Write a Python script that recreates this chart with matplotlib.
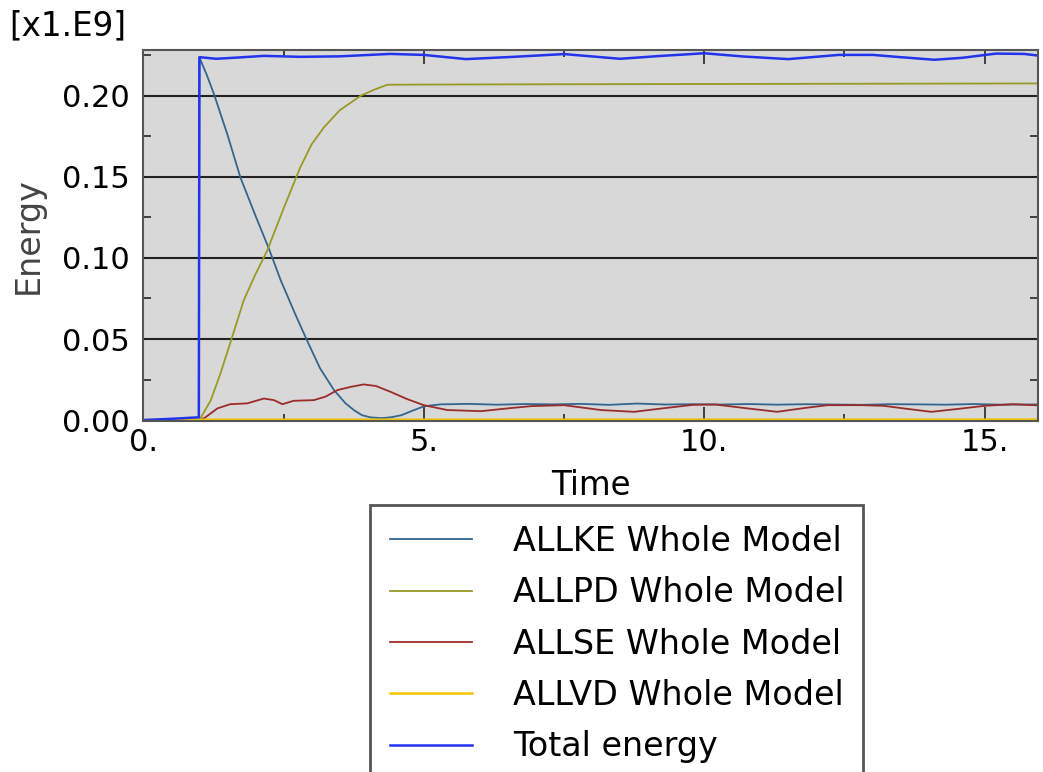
import matplotlib.pyplot as plt
from matplotlib.ticker import MultipleLocator, FuncFormatter

# energy histories, values in units of 1e9
t_ke = [0, 0.99, 1.0, 1.13, 1.26, 1.5, 1.73, 2.0, 2.24, 2.45, 2.7, 2.92, 3.15, 3.4, 3.6, 3.76,
        3.9, 4.05, 4.25, 4.41, 4.6, 4.8, 5.0, 5.3, 5.8, 6.3, 6.8, 7.3, 7.8, 8.3, 8.8, 9.3,
        9.8, 10.3, 10.8, 11.3, 11.8, 12.3, 12.8, 13.3, 13.8, 14.3, 14.8, 15.3, 16.0]
allke = [0, 0, 0.2236, 0.213, 0.201, 0.176, 0.1497, 0.126, 0.1056, 0.0862, 0.066, 0.049, 0.032,
         0.0185, 0.0105, 0.006, 0.003, 0.0017, 0.0012, 0.0017, 0.003, 0.0058, 0.0085, 0.0097,
         0.0100, 0.0095, 0.0099, 0.0097, 0.0100, 0.0094, 0.0102, 0.0096, 0.0098, 0.0096, 0.0099,
         0.0095, 0.0098, 0.0096, 0.0094, 0.0098, 0.0097, 0.0095, 0.0099, 0.0095, 0.0097]

t_pd = [0, 1.0, 1.2, 1.375, 1.6, 1.79, 2.0, 2.21, 2.51, 2.8, 3.0, 3.22, 3.5, 3.875, 4.1, 4.35,
        5.0, 7.5, 16.0]
allpd = [0, 0, 0.012, 0.0287, 0.053, 0.0738, 0.090, 0.1046, 0.1313, 0.156, 0.170, 0.1805,
         0.191, 0.200, 0.2035, 0.2068, 0.2069, 0.2071, 0.2076]

t_se = [0, 1.0, 1.1, 1.32, 1.55, 1.85, 2.0, 2.15, 2.33, 2.48, 2.68, 3.04, 3.25, 3.46, 3.7, 3.93,
        4.15, 4.41, 4.7, 5.0, 5.42, 6.02, 6.49, 6.91, 7.5, 8.16, 8.75, 9.2, 9.8, 10.2, 10.7,
        11.3, 11.8, 12.2, 12.8, 13.2, 13.6, 14.05, 14.5, 15.0, 15.5, 16.0]
allse = [0, 0, 0.0015, 0.0072, 0.0098, 0.0103, 0.0118, 0.0133, 0.0123, 0.0098, 0.0119, 0.0123,
         0.0145, 0.0185, 0.0205, 0.0220, 0.0210, 0.0174, 0.0130, 0.0092, 0.0062, 0.0055, 0.0072,
         0.0086, 0.0092, 0.0062, 0.0051, 0.0070, 0.0094, 0.0096, 0.0075, 0.0051, 0.0075, 0.0092,
         0.0092, 0.0088, 0.0070, 0.0051, 0.0068, 0.0088, 0.0098, 0.0090]

t_vd = [0, 1.0, 16.0]
allvd = [0, 0.0002, 0.0003]

t_tot = [0, 0.5, 0.99, 1.0, 1.3, 1.7, 2.15, 2.8, 3.5, 4.4, 5.0, 5.75, 6.6, 7.5, 8.5, 9.2, 10.0,
         10.7, 11.5, 12.4, 13.0, 13.5, 14.1, 14.6, 15.2, 15.7, 16.0]
total = [0, 0.0008, 0.0017, 0.2238, 0.2228, 0.2236, 0.2246, 0.2240, 0.2243, 0.2258, 0.2252,
         0.2226, 0.2240, 0.2257, 0.2228, 0.2245, 0.2262, 0.2242, 0.2226, 0.2252, 0.2252, 0.2238,
         0.2222, 0.2234, 0.2260, 0.2258, 0.2246]

labels = ['ALLKE Whole Model', 'ALLPD Whole Model', 'ALLSE Whole Model',
          'ALLVD Whole Model', 'Total energy']

plt.rcParams['font.family'] = 'DejaVu Sans'

fig = plt.figure(figsize=(10.43, 7.72), dpi=100)
ax = fig.add_axes([0.1374, 0.455, 0.8578, 0.4802])
ax.set_facecolor('#d8d8d8')

ax.plot(t_ke, allke, color='#33668f', lw=1.3, label=labels[0])
ax.plot(t_pd, allpd, color='#999926', lw=1.3, label=labels[1])
ax.plot(t_se, allse, color='#9b2b2b', lw=1.3, label=labels[2])
ax.plot(t_vd, allvd, color='#f2c500', lw=1.8, label=labels[3])
ax.plot(t_tot, total, color='#2233ee', lw=1.8, label=labels[4])

ax.set_xlim(0, 15.95)
ax.set_ylim(-0.0004, 0.2282)

ax.xaxis.set_major_locator(MultipleLocator(5))
ax.xaxis.set_minor_locator(MultipleLocator(2.5))
ax.yaxis.set_major_locator(MultipleLocator(0.05))
ax.yaxis.set_minor_locator(MultipleLocator(0.025))
ax.xaxis.set_major_formatter(FuncFormatter(lambda v, p: '%d.' % round(v)))
ax.yaxis.set_major_formatter(FuncFormatter(lambda v, p: '%.2f' % v))

ax.tick_params(which='both', direction='in', top=True, right=True, labelsize=22,
               color='#333333', labelcolor='black')
ax.tick_params(axis='x', which='major', length=10, width=1.3, pad=5)
ax.tick_params(axis='x', which='minor', length=5, width=1.3)
ax.tick_params(axis='y', which='major', length=0, pad=10)
ax.tick_params(axis='y', which='minor', length=6, width=1.3)
ax.grid(axis='y', which='major', color='#222222', lw=1.5)
ax.set_axisbelow(True)
for s in ax.spines.values():
    s.set_color('#555555')
    s.set_linewidth(1.5)

ax.set_xlabel('Time', fontsize=23.5, labelpad=9)
ax.set_ylabel('Energy', fontsize=24, color='#444444', labelpad=12)
fig.text(0.009, 0.988, '[x1.E9]', fontsize=23.5, va='top', ha='left')

leg = fig.legend(loc='upper left', bbox_to_anchor=(0.355, 0, 0.472, 0.346), mode='expand',
                 fontsize=24, handlelength=2.45, handletextpad=1.24, labelspacing=0.55,
                 borderpad=0.6, borderaxespad=0, fancybox=False, framealpha=1)
leg.get_frame().set_edgecolor('#555555')
leg.get_frame().set_linewidth(2)

fig.savefig('out.png', dpi=100)
